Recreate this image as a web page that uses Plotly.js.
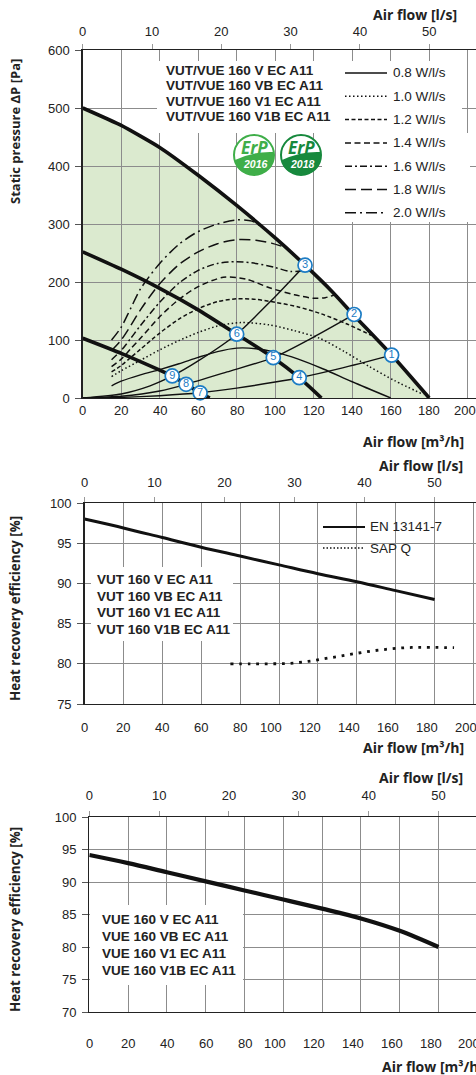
<!DOCTYPE html>
<html>
<head>
<meta charset="utf-8">
<script src="https://cdn.plot.ly/plotly-3.0.1.min.js"></script>
<style>
html,body{margin:0;padding:0;background:#fff;overflow:hidden;width:476px;height:1075px;}
#chart{width:500px;height:1075px;}
</style>
</head>
<body>
<div id="chart"></div>
<script>
// ---------- DATA ----------
// Top chart: static pressure vs air flow
const flowMax = [0, 20, 40, 60, 80, 100, 115.5, 130, 140.5, 160.5, 180];
const pressMax = [500, 470, 432, 384, 332, 276, 229, 182, 144, 74, 0];
const flowMid = [0, 20, 40, 60, 80, 99, 112.5, 124];
const pressMid = [252, 222, 189, 152, 110, 69.5, 35, 0];
const flowLow = [0, 20, 40, 46.5, 53.7, 61, 66];
const pressLow = [103, 77, 48, 38, 23.6, 9, 0];

const sysFlow1 = [0, 20, 40, 61, 80, 100, 112.5, 135, 160.5];
const sysPress1 = [0, 1, 4, 9, 17, 27.5, 35, 52, 74];
const sysFlow2 = [0, 20, 40, 53.7, 75, 99, 120, 141];
const sysPress2 = [0, 3, 12, 23.6, 45, 69.5, 105, 144];
const sysFlow3 = [0, 20, 35, 46.5, 60, 80, 98, 115.5];
const sysPress3 = [0, 7, 21, 38, 64, 110, 168, 229];

const flow08 = [15, 20, 30, 40, 50, 60, 70, 80, 90, 100, 112, 125, 140, 160];
const press08 = [21, 29, 40, 49, 59, 70, 80, 86, 85, 79, 67, 50, 28, 0];
const flow10 = [15, 20, 30, 40, 50, 60, 70, 82, 97, 110, 123, 136, 149, 162, 177];
const press10 = [37, 47, 65, 83, 99, 113, 124, 130, 126, 116, 103, 80, 54, 30, 6];
const flow12 = [15, 20, 25, 30, 40, 50, 60, 70, 80, 90, 100, 112, 124, 137, 150];
const press12 = [45, 56, 70, 84, 112, 136, 154, 166, 171, 170, 165, 157, 145, 128, 108];
const flow14 = [15, 20, 25, 30, 40, 50, 60, 73, 85, 97, 110, 120, 126, 131];
const press14 = [54, 67, 85, 103, 140, 170, 192, 208, 205, 190, 178, 172, 173, 178];
const flow16 = [15, 20, 25, 30, 40, 50, 60, 70, 80, 90, 100, 108, 115];
const press16 = [66, 82, 103, 125, 165, 198, 220, 232, 235, 232, 225, 218, 220];
const flow18 = [15, 20, 25, 30, 40, 50, 60, 70, 80, 90, 98, 104];
const press18 = [82, 100, 125, 152, 197, 230, 252, 266, 273, 272, 267, 261];
const flow20 = [15, 20, 25, 30, 40, 50, 60, 70, 80, 88, 95];
const press20 = [100, 122, 155, 188, 232, 265, 287, 300, 307, 305, 290];

const opFlow = [160.5, 141, 115.5, 112.5, 99, 80, 61, 53.7, 46.5];
const opPress = [74, 144, 229, 35, 69.5, 110, 9, 23.6, 38];
const opLabels = ['1', '2', '3', '4', '5', '6', '7', '8', '9'];

const effLegend = ['0.8 W/l/s', '1.0 W/l/s', '1.2 W/l/s', '1.4 W/l/s', '1.6 W/l/s', '1.8 W/l/s', '2.0 W/l/s'];
const modelsTop = ['VUT/VUE 160 V EC A11', 'VUT/VUE 160 VB EC A11', 'VUT/VUE 160 V1 EC A11', 'VUT/VUE 160 V1B EC A11'];

// Middle chart: VUT heat recovery efficiency
const flowEN = [0, 20, 40, 60, 80, 100, 120, 140, 160, 180];
const effEN = [98, 96.9, 95.7, 94.5, 93.4, 92.3, 91.2, 90.2, 89.1, 88.0];
const flowSAP = [75, 85, 95, 105, 115, 125, 135, 145, 155, 165, 175, 190];
const effSAP = [80, 80, 80, 80.05, 80.3, 80.7, 81.1, 81.5, 81.8, 82.0, 82.05, 82.0];
const midLegend = ['EN 13141-7', 'SAP Q'];
const modelsVUT = ['VUT 160 V EC A11', 'VUT 160 VB EC A11', 'VUT 160 V1 EC A11', 'VUT 160 V1B EC A11'];

// Bottom chart: VUE heat recovery efficiency
const flowVUE = [0, 20, 40, 60, 80, 100, 120, 140, 160, 180];
const effVUE = [94.15, 92.9, 91.5, 90.1, 88.7, 87.3, 85.9, 84.4, 82.5, 80.0];
const modelsVUE = ['VUE 160 V EC A11', 'VUE 160 VB EC A11', 'VUE 160 V1 EC A11', 'VUE 160 V1B EC A11'];

// Tick labels
const lsTicks = [0, 10, 20, 30, 40, 50];
const m3hTicks = [0, 20, 40, 60, 80, 100, 120, 140, 160, 180, 200];
const badgeYears = ['2016', '2018'];

// ---------- LAYOUT HELPERS ----------
const W = 500, H = 1075;
const P = v => v / W;
const Q = v => 1 - v / H;
const TXT = '#222';
const GRID = '#8c8c8c';
const BLUE = '#1c7cc4';
const tickFont = {family: 'Liberation Sans, Arial, sans-serif', size: 13, color: TXT};
const titleFont = {family: 'Open Sans, sans-serif', size: 14, color: TXT};

const effDashes = ['solid', '1.5px,2.5px', '4px,2.5px', '6px,3.5px', '7px,3px,2px,3px', '11px,5px', '11px,4px,2px,4px'];
const effSeries = [[flow08, press08], [flow10, press10], [flow12, press12], [flow14, press14], [flow16, press16], [flow18, press18], [flow20, press20]];

const traces = [];
// system curves
[[sysFlow1, sysPress1], [sysFlow2, sysPress2], [sysFlow3, sysPress3]].forEach(s => {
  traces.push({x: s[0], y: s[1], xaxis: 'x', yaxis: 'y', mode: 'lines', line: {color: '#111', width: 1.4, shape: 'spline', smoothing: 0.6}, showlegend: false, hoverinfo: 'skip'});
});
// efficiency curves
effSeries.forEach((s, i) => {
  traces.push({x: s[0], y: s[1], xaxis: 'x', yaxis: 'y', mode: 'lines', name: effLegend[i],
    line: {color: '#111', width: i === 0 ? 1.4 : 1.5, dash: effDashes[i], shape: 'spline', smoothing: 0.8}, showlegend: false, hoverinfo: 'skip'});
});
// fan speed curves (thick)
[[flowLow, pressLow], [flowMid, pressMid], [flowMax, pressMax]].forEach(s => {
  traces.push({x: s[0], y: s[1], xaxis: 'x', yaxis: 'y', mode: 'lines', line: {color: '#111', width: 3.6, shape: 'spline', smoothing: 0.5}, showlegend: false, hoverinfo: 'skip'});
});
// operating points
traces.push({x: opFlow, y: opPress, xaxis: 'x', yaxis: 'y', mode: 'markers+text', text: opLabels, textposition: 'middle center',
  textfont: {family: 'Liberation Sans, Arial, sans-serif', size: 11, color: BLUE},
  marker: {size: 14, color: '#fff', line: {color: BLUE, width: 1.7}}, showlegend: false, hoverinfo: 'skip', cliponaxis: false});
// top l/s axis carrier (empty)
traces.push({x: lsTicks, y: lsTicks.map(() => null), xaxis: 'x2', yaxis: 'y', mode: 'lines', showlegend: false, hoverinfo: 'skip'});

// middle
traces.push({x: flowEN, y: effEN, xaxis: 'x3', yaxis: 'y2', mode: 'lines', name: midLegend[0], line: {color: '#111', width: 3, shape: 'spline'}, showlegend: false, hoverinfo: 'skip'});
traces.push({x: flowSAP, y: effSAP, xaxis: 'x3', yaxis: 'y2', mode: 'lines', name: midLegend[1], line: {color: '#111', width: 2.8, dash: '2.8px,5.8px', shape: 'spline'}, showlegend: false, hoverinfo: 'skip'});
traces.push({x: lsTicks, y: lsTicks.map(() => null), xaxis: 'x4', yaxis: 'y2', mode: 'lines', showlegend: false, hoverinfo: 'skip'});

// bottom
traces.push({x: flowVUE, y: effVUE, xaxis: 'x5', yaxis: 'y3', mode: 'lines', line: {color: '#111', width: 4.2, shape: 'spline'}, showlegend: false, hoverinfo: 'skip'});
traces.push({x: lsTicks, y: lsTicks.map(() => null), xaxis: 'x6', yaxis: 'y3', mode: 'lines', showlegend: false, hoverinfo: 'skip'});

// ---------- AXES ----------
function bottomAxis(leftPx, pxPerUnit) {
  return {domain: [P(leftPx), 1], range: [0, (W - leftPx) / pxPerUnit], dtick: 20, tick0: 0,
    showgrid: true, gridcolor: GRID, gridwidth: 1, zeroline: false, showticklabels: false,
    showline: true, linecolor: '#222', linewidth: 1.3, ticks: '', fixedrange: true};
}
function topAxis(base, anchor, leftPx, pxPerUnit, standoff) {
  return {overlaying: base, anchor: anchor, side: 'top', range: [0, (W - leftPx) / pxPerUnit / 3.6],
    tickvals: lsTicks, ticktext: lsTicks.map(String), showgrid: false, zeroline: false,
    showline: true, linecolor: '#222', linewidth: 1.3, ticks: 'outside', ticklen: 5, tickcolor: '#999', tickwidth: 1,
    tickfont: tickFont, ticklabelstandoff: standoff, fixedrange: true};
}
function leftAxis(topPx, botPx, range, dtick, standoff) {
  return {domain: [Q(botPx), Q(topPx)], range: range, dtick: dtick, tick0: 0, showgrid: true, gridcolor: GRID, gridwidth: 1,
    zeroline: false, showline: true, linecolor: '#222', linewidth: 1.3, ticks: 'outside', ticklen: 6, tickcolor: '#555',
    tickfont: tickFont, ticklabelstandoff: standoff, fixedrange: true};
}

const layout = {
  width: W, height: H, margin: {l: 0, r: 0, t: 0, b: 0}, paper_bgcolor: '#fff', plot_bgcolor: 'rgba(0,0,0,0)',
  showlegend: false,
  xaxis: Object.assign(bottomAxis(82.7, 1.925), {anchor: 'y'}),
  xaxis2: topAxis('x', 'y', 82.7, 1.925, 3),
  yaxis: Object.assign(leftAxis(50, 398, [0, 600], 100, 3), {anchor: 'x'}),
  xaxis3: Object.assign(bottomAxis(84.5, 1.945), {anchor: 'y2'}),
  xaxis4: topAxis('x3', 'y2', 84.5, 1.945, 5),
  yaxis2: Object.assign(leftAxis(503, 704, [75, 100], 5, 3), {anchor: 'x3'}),
  xaxis5: Object.assign(bottomAxis(89.3, 1.94), {anchor: 'y3'}),
  xaxis6: topAxis('x5', 'y3', 89.3, 1.94, 6),
  yaxis3: Object.assign(leftAxis(817, 1012, [70, 100], 5, 3), {anchor: 'x5'}),
  shapes: [],
  annotations: []
};

// green working area (below gridlines)
const fillPath = 'M 0,0 L ' + flowMax.map((f, i) => f + ',' + pressMax[i]).join(' L ') + ' Z';
layout.shapes.push({type: 'path', xref: 'x', yref: 'y', path: fillPath, fillcolor: '#dbeacf', line: {width: 0}, layer: 'below'});

// white label boxes
function box(x0, y0, x1, y1) {
  layout.shapes.push({type: 'rect', xref: 'paper', yref: 'paper', x0: P(x0), x1: P(x1), y0: Q(y1), y1: Q(y0), fillcolor: '#fff', line: {width: 0}, layer: 'above'});
}
box(157, 61, 462, 133);
box(322, 133, 470, 222);
box(91, 567, 233, 641);
box(90, 905, 243, 985);

// annotations helper
function ann(text, xpx, ypx, opts) {
  layout.annotations.push(Object.assign({text: text, xref: 'paper', yref: 'paper', x: P(xpx), y: Q(ypx), showarrow: false,
    xanchor: 'left', yanchor: 'middle', font: tickFont}, opts || {}));
}

// bottom m³/h tick labels, placed on the axis scale (some sit a little left of their gridline, as in the source)
function flowTickLabels(xref, ypx, pxPerUnit, shiftPx) {
  m3hTicks.forEach(v => {
    layout.annotations.push({text: String(v), xref: xref, yref: 'paper', x: v - shiftPx(v) / pxPerUnit, y: Q(ypx), showarrow: false,
      xanchor: 'center', yanchor: 'middle', font: tickFont});
  });
}
flowTickLabels('x', 410.5, 1.925, v => (v >= 200 ? 3 : 0));
flowTickLabels('x3', 727, 1.945, v => (v >= 100 ? 8 : 0));
flowTickLabels('x5', 1043, 1.94, v => (v >= 100 ? 8 : 0));

// axis titles
ann('<b>Air flow [l/s]</b>', 459, 15, {xanchor: 'right', font: titleFont});
ann('<b>Air flow [m³/h]</b>', 466, 441, {xanchor: 'right', font: titleFont});
ann('<b>Air flow [l/s]</b>', 465, 465.5, {xanchor: 'right', font: titleFont});
ann('<b>Air flow [m³/h]</b>', 466, 747, {xanchor: 'right', font: titleFont});
ann('<b>Air flow [l/s]</b>', 465, 777.5, {xanchor: 'right', font: titleFont});
ann('<b>Air flow [m³/h]</b>', 380, 1066, {xanchor: 'left', font: titleFont});
ann('<b>Static pressure ΔP [Pa]</b>', 15, 132, {xanchor: 'center', textangle: -90, font: Object.assign({}, titleFont, {size: 13})});
ann('<b>Heat recovery efficiency [%]</b>', 15, 609, {xanchor: 'center', textangle: -90, font: Object.assign({}, titleFont, {size: 13.3})});
ann('<b>Heat recovery efficiency [%]</b>', 15, 920, {xanchor: 'center', textangle: -90, font: Object.assign({}, titleFont, {size: 13.3})});

// model names
const boldFont = {family: 'Liberation Sans, Arial, sans-serif', size: 13.5, color: TXT};
modelsTop.forEach((m, i) => ann('<b>' + m + '</b>', 164, 70 + 15.5 * i, {font: boldFont}));
modelsVUT.forEach((m, i) => ann('<b>' + m + '</b>', 95, 579.5 + 16.5 * i, {font: boldFont}));
modelsVUE.forEach((m, i) => ann('<b>' + m + '</b>', 100, 919 + 17.3 * i, {font: boldFont}));

// top legend
effLegend.forEach((t, i) => {
  const y = 73 + 23.3 * i;
  layout.shapes.push({type: 'line', xref: 'paper', yref: 'paper', x0: P(345), x1: P(387), y0: Q(y), y1: Q(y), line: {color: '#111', width: 1.5, dash: effDashes[i]}, layer: 'above'});
  ann(t, 391, y, {font: Object.assign({}, tickFont, {size: 13.5})});
});
// middle legend
layout.shapes.push({type: 'line', xref: 'paper', yref: 'paper', x0: P(323), x1: P(365), y0: Q(527), y1: Q(527), line: {color: '#111', width: 2}, layer: 'above'});
layout.shapes.push({type: 'line', xref: 'paper', yref: 'paper', x0: P(323), x1: P(365), y0: Q(548), y1: Q(548), line: {color: '#111', width: 1.5, dash: '1.5px,2px'}, layer: 'above'});
ann(midLegend[0], 368, 527, {font: Object.assign({}, tickFont, {size: 13.5})});
ann(midLegend[1], 368, 548, {font: Object.assign({}, tickFont, {size: 13.5})});

// ErP badges
const badgeColors = ['#3fae49', '#17893d'];
[[254, 155], [301, 155]].forEach((c, i) => {
  const cx = c[0], cy = c[1], r = 20, col = badgeColors[i];
  layout.shapes.push({type: 'circle', xref: 'paper', yref: 'paper', x0: P(cx - r), x1: P(cx + r), y0: Q(cy + r), y1: Q(cy - r), fillcolor: '#fff', line: {color: col, width: 2}, layer: 'above'});
  const pt = (x, y) => P(x) + ',' + Q(y);
  const path = 'M ' + pt(cx - 19, cy + 5) + ' Q ' + pt(cx, cy - 4) + ' ' + pt(cx + 20, cy - 3) +
    ' C ' + pt(cx + 20, cy + 12) + ' ' + pt(cx + 11, cy + 20) + ' ' + pt(cx, cy + 20) +
    ' C ' + pt(cx - 11, cy + 20) + ' ' + pt(cx - 18, cy + 13) + ' ' + pt(cx - 19, cy + 5) + ' Z';
  layout.shapes.push({type: 'path', xref: 'paper', yref: 'paper', path: path, fillcolor: col, line: {width: 0}, layer: 'above'});
  ann('<b><i>ErP</i></b>', cx, cy - 8, {xanchor: 'center', font: {family: 'Open Sans, sans-serif', size: 17, color: col}});
  ann('<b><i>' + badgeYears[i] + '</i></b>', cx + 1, cy + 9, {xanchor: 'center', font: {family: 'Liberation Sans, Arial, sans-serif', size: 10.5, color: '#fff'}});
});

Plotly.newPlot('chart', traces, layout, {staticPlot: true, displayModeBar: false});
</script>
</body>
</html>
